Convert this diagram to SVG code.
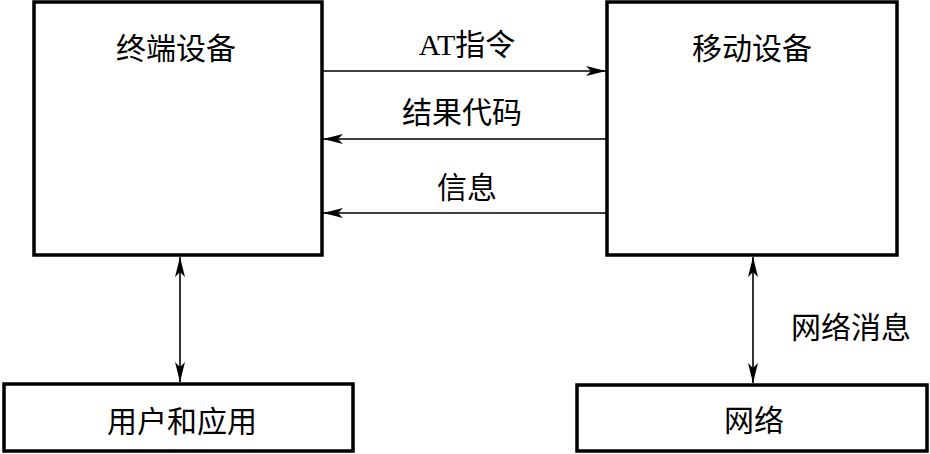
<svg xmlns="http://www.w3.org/2000/svg" width="930" height="454" viewBox="0 0 930 454">
<style>
.box{fill:#fff;stroke:#000;stroke-width:3.5}
.t{font-family:"Liberation Serif","Noto Sans CJK SC",serif;font-size:30px;fill:#000;text-anchor:middle}
.c{stroke:#000;stroke-width:1.6;fill:none}
</style>
<defs>
<marker id="ah" viewBox="0 0 20 10" refX="20" refY="5" markerWidth="20" markerHeight="10" markerUnits="userSpaceOnUse" orient="auto-start-reverse">
<path d="M0,0 L20,5 L0,10 L5,5 Z" fill="#000"/>
</marker>
</defs>
<rect width="930" height="454" fill="#fff"/>
<g id="terminal"><rect class="box" x="34" y="2" width="288" height="253"/><text class="t" x="176" y="59">终端设备</text></g>
<g id="mobile"><rect class="box" x="607" y="2" width="290" height="253"/><text class="t" x="752" y="59">移动设备</text></g>
<g id="user"><rect class="box" x="4" y="384" width="349" height="67"/><text class="t" x="182" y="432">用户和应用</text></g>
<g id="network"><rect class="box" x="577" y="385" width="350" height="66"/><text class="t" x="754" y="431">网络</text></g>
<g id="connectors">
<line class="c" x1="323" y1="71" x2="606" y2="71" marker-end="url(#ah)"/>
<line class="c" x1="606" y1="139" x2="323" y2="139" marker-end="url(#ah)"/>
<line class="c" x1="606" y1="213" x2="323" y2="213" marker-end="url(#ah)"/>
<line class="c" x1="180" y1="257" x2="180" y2="382" marker-start="url(#ah)" marker-end="url(#ah)"/>
<line class="c" x1="753" y1="257" x2="753" y2="383" marker-start="url(#ah)" marker-end="url(#ah)"/>
<text class="t" x="467" y="55">AT指令</text>
<text class="t" x="462" y="123">结果代码</text>
<text class="t" x="467" y="198">信息</text>
<text class="t" x="851" y="338">网络消息</text>
</g>
</svg>
